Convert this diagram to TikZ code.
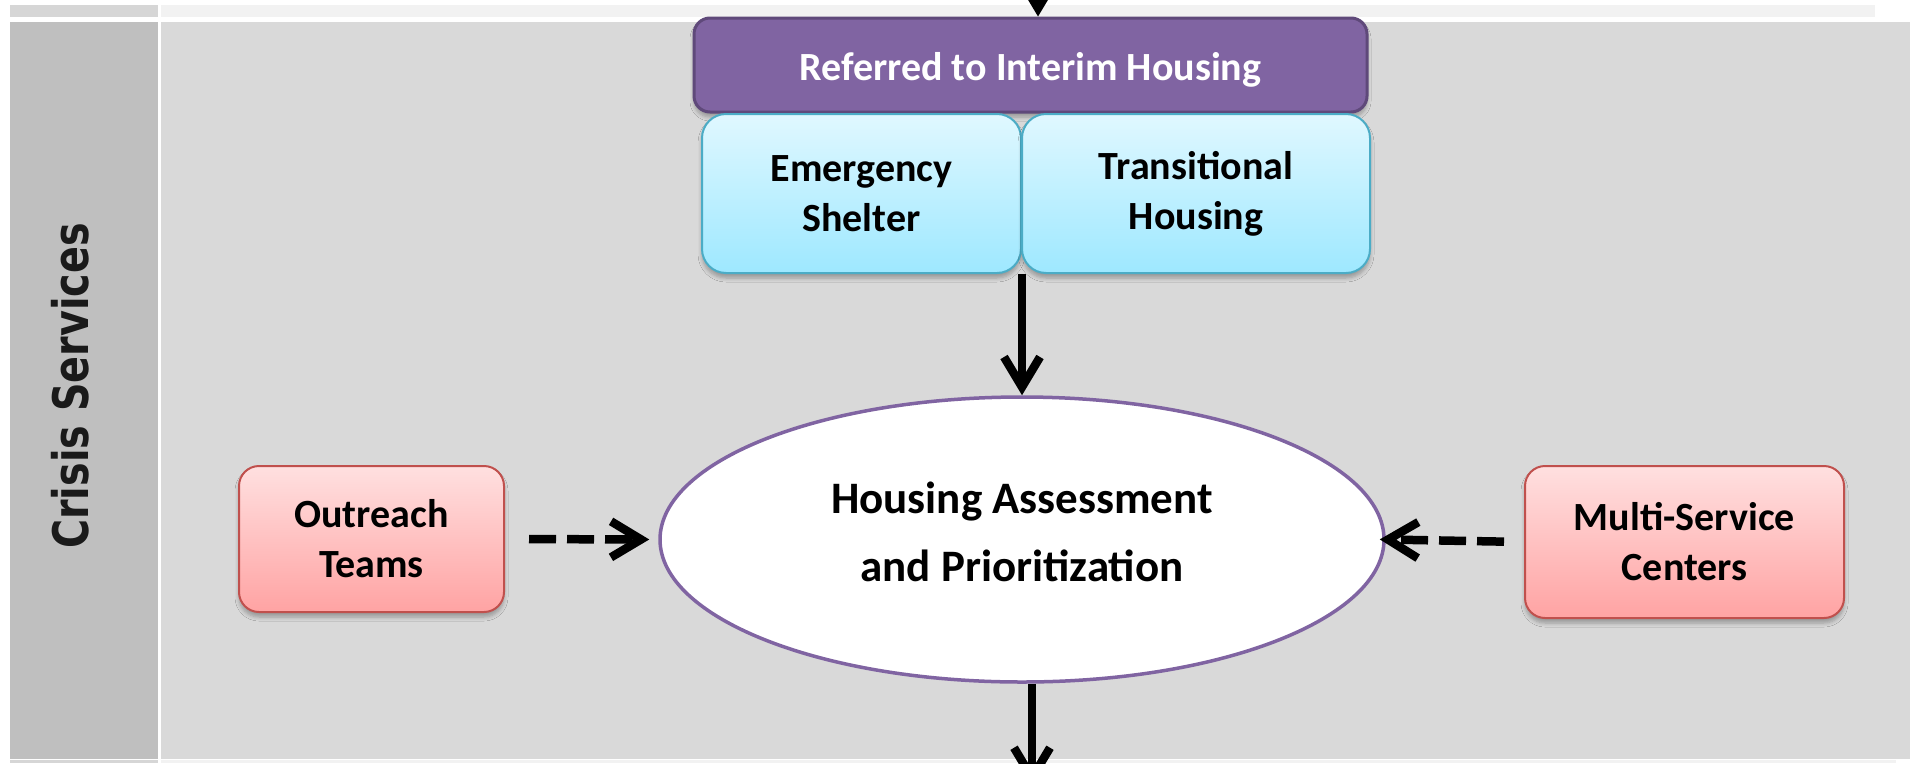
\documentclass[tikz,border=0pt]{standalone}
\usepackage{fontspec}
\setmainfont{Carlito}
\newfontfamily\lanefont{DejaVu Sans}
\usetikzlibrary{shapes.geometric,arrows.meta,shadows.blur}
\definecolor{lanemain}{HTML}{D9D9D9}
\definecolor{lanehead}{HTML}{BFBFBF}
\definecolor{stripmain}{HTML}{F2F2F2}
\definecolor{striphead}{HTML}{D6D6D6}
\definecolor{purplefill}{HTML}{8064A2}
\definecolor{purpleline}{HTML}{5F497A}
\definecolor{cyantop}{HTML}{E0F8FF}
\definecolor{cyanbot}{HTML}{9EE8FF}
\definecolor{cyanline}{HTML}{4BACC6}
\definecolor{redtop}{HTML}{FFE0E0}
\definecolor{redbot}{HTML}{FFA3A3}
\definecolor{redline}{HTML}{C0504D}
\definecolor{labeltext}{HTML}{1A1A1A}
\begin{document}
\begin{tikzpicture}[x=1pt,y=-1pt,
  softshadow/.style={blur shadow={shadow xshift=0pt, shadow yshift=-5pt, shadow blur radius=4pt, shadow blur steps=6, shadow opacity=30}},
  boxtext/.style={align=center, inner sep=0pt, font=\fontsize{40}{50}\selectfont\bfseries},
  purplebox/.style={boxtext, rounded corners=16pt, draw=purpleline, line width=3pt, fill=purplefill, text=white, softshadow},
  cyanbox/.style={boxtext, rounded corners=24pt, draw=cyanline, line width=2pt, top color=cyantop, bottom color=cyanbot, softshadow},
  redbox/.style={boxtext, rounded corners=20pt, draw=redline, line width=2pt, top color=redtop, bottom color=redbot, softshadow},
  hub/.style={ellipse, draw=purplefill, line width=3.5pt, fill=white, inner sep=0pt, align=center, font=\fontsize{45}{68}\selectfont\bfseries},
  arr/.style={line width=8.5pt, -{Straight Barb[length=30pt,width=36pt]}},
  dasharr/.style={arr, dash pattern=on 27pt off 11pt}
]
\useasboundingbox (0,0) rectangle (1910,763);
% lane backgrounds
\fill[white] (0,0) rectangle (1910,763);
\fill[striphead] (10,5) rectangle (158,17);
\fill[stripmain] (161,5) rectangle (1875,17);
\fill[lanehead] (10,22) rectangle (158,759);
\fill[lanemain] (161,22) rectangle (1910,759);
\fill[striphead] (10,760) rectangle (158,763);
\fill[stripmain] (161,760) rectangle (1896,763);
\node[rotate=90, inner sep=0pt, text=labeltext, font=\lanefont\bfseries\fontsize{49}{55}\selectfont] (lbl) at (70,386) {\scalebox{0.81}[1]{Crisis Services}};
% nodes
\node[purplebox, minimum width=673pt, minimum height=94pt, text height=30pt, text depth=0pt] (rih) at (1030.5,65) {Referred to Interim Housing};
\node[cyanbox, minimum width=319pt, minimum height=159pt] (es) at (861.5,193.5) {Emergency\\Shelter};
\node[cyanbox, minimum width=348pt, minimum height=159pt] (th) at (1196,193.5) {Transitional\\Housing};
\node[hub, minimum width=724pt, minimum height=285pt, text depth=15pt] (hap) at (1022,539.5) {Housing Assessment\\and Prioritization};
\node[redbox, minimum width=265pt, minimum height=146pt] (ot) at (371.5,539) {Outreach\\Teams};
\node[redbox, minimum width=319pt, minimum height=152pt] (msc) at (1684.5,542) {Multi-Service\\Centers};
% connectors
\coordinate (topin) at (1038,-40);
\coordinate (botout) at (1032,786);
\draw[arr] (topin) -- (topin |- rih.north);
\draw[arr] (es.south east) -- (hap.north);
\draw[arr] (botout |- hap.south) -- (botout);
\draw[dasharr, shorten <=24pt, shorten >=9pt] (ot.east) -- (hap.west);
\draw[dasharr, shorten <=20pt, shorten >=-6pt] (msc.west) -- (hap.east);
\end{tikzpicture}
\end{document}
